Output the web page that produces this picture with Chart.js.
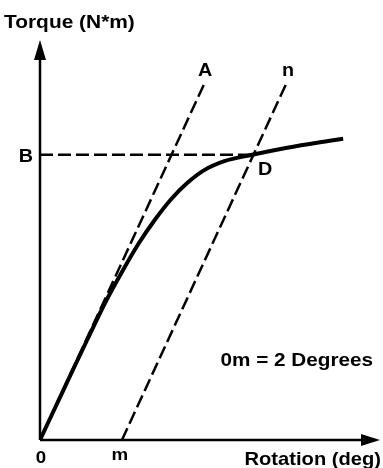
<!DOCTYPE html>
<html>
<head>
<meta charset="utf-8">
<script src="https://cdn.jsdelivr.net/npm/chart.js@4"></script>
<style>
  html, body { margin: 0; padding: 0; background: white; }
  #wrap { width: 383px; height: 468px; }
</style>
</head>
<body>
<div id="wrap"><canvas id="myChart"></canvas></div>
<script>
// torque curve (x in degrees, y in torque units)
const curveX = [0, 0.6, 1.15, 1.6, 2.0, 2.4, 2.8, 3.2, 3.6, 4.0, 4.5, 5.18, 6.0, 6.8, 7.4];
const curveY = [0, 1.31, 2.5, 3.45, 4.2, 4.9, 5.5, 6.02, 6.43, 6.74, 6.97, 7.13, 7.3, 7.44, 7.53];

// line A (elastic slope) and line n, parallel and shifted by 0m
const offsetM = 2;
const lineAX = [0, 4.03];
const lineAY = [0, 8.95];
const lineNX = [offsetM, offsetM + 4.03];
const lineNY = [0, 8.95];

// yield level B and the point D where it meets line n
const yieldB = 7.13;
const pointDX = 5.18;

const xMax = 8.3;
const yMax = 10;

const toPts = (xs, ys) => xs.map((x, i) => ({x: x, y: ys[i]}));

function txt(ctx, s, x, y, align, size, sx) {
  ctx.save();
  ctx.font = 'bold ' + size + 'px "Liberation Sans", Arial, sans-serif';
  ctx.fillStyle = 'black';
  ctx.textBaseline = 'alphabetic';
  ctx.textAlign = align;
  ctx.translate(x, y);
  ctx.scale(sx || 1.1, 1);
  ctx.fillText(s, 0, 0);
  ctx.restore();
}

const axesPlugin = {
  id: 'axes_and_labels',
  afterDatasetsDraw: (chart) => {
    const {ctx} = chart;
    const xs = chart.scales.x, ys = chart.scales.y;
    const x0 = xs.getPixelForValue(0), y0 = ys.getPixelForValue(0);
    const xEnd = xs.getPixelForValue(xMax), yEnd = ys.getPixelForValue(yMax);

    ctx.save();
    ctx.strokeStyle = 'black';
    ctx.fillStyle = 'black';
    ctx.lineWidth = 2.5;
    ctx.beginPath();
    ctx.moveTo(x0, y0);
    ctx.lineTo(x0, yEnd + 15);
    ctx.moveTo(x0, y0);
    ctx.lineTo(xEnd - 15, y0);
    ctx.stroke();
    // arrow heads
    ctx.beginPath();
    ctx.moveTo(x0, yEnd);
    ctx.lineTo(x0 - 6, yEnd + 20);
    ctx.lineTo(x0 + 6, yEnd + 20);
    ctx.closePath();
    ctx.fill();
    ctx.beginPath();
    ctx.moveTo(xEnd, y0);
    ctx.lineTo(xEnd - 19, y0 - 6);
    ctx.lineTo(xEnd - 19, y0 + 6);
    ctx.closePath();
    ctx.fill();
    ctx.restore();

    txt(ctx, 'Torque (N*m)', 4, 28, 'left', 19, 1.1);
    txt(ctx, 'Rotation (deg)', 381, 465, 'right', 19, 1.06);
    txt(ctx, '0m = 2 Degrees', 373, 366, 'right', 19, 1.09);
    txt(ctx, 'A', xs.getPixelForValue(lineAX[1]), ys.getPixelForValue(lineAY[1]) - 6, 'center', 18);
    txt(ctx, 'n', xs.getPixelForValue(lineNX[1]) + 1, ys.getPixelForValue(lineNY[1]) - 6, 'center', 18);
    txt(ctx, 'B', x0 - 14, ys.getPixelForValue(yieldB) + 7, 'center', 18);
    txt(ctx, 'D', xs.getPixelForValue(pointDX) + 13, ys.getPixelForValue(yieldB) + 20, 'center', 18);
    txt(ctx, '0', x0 + 1, y0 + 23, 'center', 17);
    txt(ctx, 'm', xs.getPixelForValue(offsetM) - 2, y0 + 20, 'center', 17);
  }
};

const dashed = {
  borderColor: 'black',
  borderWidth: 2.5,
  borderDash: [13, 5],
  pointRadius: 0,
  fill: false
};

const config = {
  type: 'line',
  data: {
    datasets: [
      Object.assign({label: 'A', data: toPts(lineAX, lineAY)}, dashed),
      Object.assign({label: 'n', data: toPts(lineNX, lineNY)}, dashed),
      Object.assign({label: 'B', data: toPts([0, pointDX], [yieldB, yieldB])}, dashed),
      {
        label: 'Torque',
        data: toPts(curveX, curveY),
        borderColor: 'black',
        borderWidth: 4,
        pointRadius: 0,
        cubicInterpolationMode: 'monotone',
        fill: false
      }
    ]
  },
  options: {
    responsive: true,
    maintainAspectRatio: false,
    animation: false,
    layout: {
      padding: {left: 40, right: 3, top: 40, bottom: 28}
    },
    scales: {
      x: {type: 'linear', min: 0, max: xMax, display: false},
      y: {type: 'linear', min: 0, max: yMax, display: false}
    },
    plugins: {
      legend: {display: false},
      tooltip: {enabled: false}
    }
  },
  plugins: [axesPlugin]
};

const myChart = new Chart(document.getElementById('myChart'), config);
</script>
</body>
</html>
